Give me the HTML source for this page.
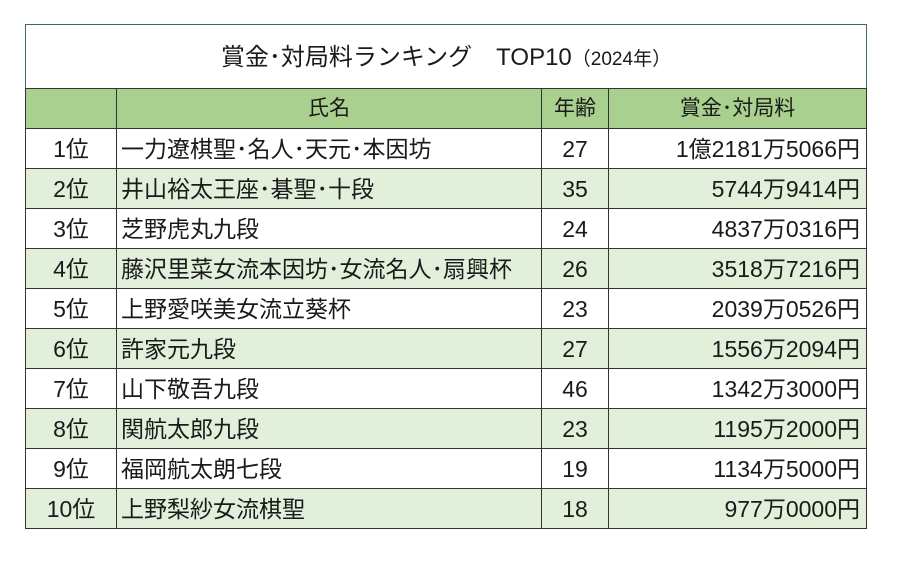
<!DOCTYPE html>
<html><head><meta charset="utf-8"><style>
body{margin:0;width:900px;height:567px;background:#fff;font-family:"Liberation Sans","Noto Sans CJK JP",sans-serif;color:#1a1a1a;position:relative;overflow:hidden}
.title{position:absolute;left:25px;top:24px;width:840px;height:64px;border:1px solid #3d6e4a;border-bottom:none;text-align:center;line-height:66px;font-size:24px}
.title small{font-size:19px}
table{position:absolute;left:25px;top:88px;border-collapse:collapse;font-size:23px;table-layout:fixed;width:841px}
tr{height:40px}
td{border:1.5px solid #333;padding:0 4px;white-space:nowrap;vertical-align:middle;line-height:36px;height:37px;overflow:hidden}
tr.h td{background:#a9d08e;text-align:center;font-size:21px}
tr.g td{background:#e2efda}
td.r{text-align:center}
td.a{text-align:center}
td.m{text-align:right;padding-right:6px}
</style></head><body>
<div class="title">賞金･対局料ランキング　TOP10<small>（2024年）</small></div>
<table>
<colgroup><col style="width:91px"><col style="width:425px"><col style="width:67px"><col style="width:258px"></colgroup>
<tr class="h"><td></td><td>氏名</td><td>年齢</td><td>賞金･対局料</td></tr>
<tr><td class="r">1位</td><td>一力遼棋聖･名人･天元･本因坊</td><td class="a">27</td><td class="m">1億2181万5066円</td></tr>
<tr class="g"><td class="r">2位</td><td>井山裕太王座･碁聖･十段</td><td class="a">35</td><td class="m">5744万9414円</td></tr>
<tr><td class="r">3位</td><td>芝野虎丸九段</td><td class="a">24</td><td class="m">4837万0316円</td></tr>
<tr class="g"><td class="r">4位</td><td>藤沢里菜女流本因坊･女流名人･扇興杯</td><td class="a">26</td><td class="m">3518万7216円</td></tr>
<tr><td class="r">5位</td><td>上野愛咲美女流立葵杯</td><td class="a">23</td><td class="m">2039万0526円</td></tr>
<tr class="g"><td class="r">6位</td><td>許家元九段</td><td class="a">27</td><td class="m">1556万2094円</td></tr>
<tr><td class="r">7位</td><td>山下敬吾九段</td><td class="a">46</td><td class="m">1342万3000円</td></tr>
<tr class="g"><td class="r">8位</td><td>関航太郎九段</td><td class="a">23</td><td class="m">1195万2000円</td></tr>
<tr><td class="r">9位</td><td>福岡航太朗七段</td><td class="a">19</td><td class="m">1134万5000円</td></tr>
<tr class="g"><td class="r">10位</td><td>上野梨紗女流棋聖</td><td class="a">18</td><td class="m">977万0000円</td></tr>
</table>
</body></html>
